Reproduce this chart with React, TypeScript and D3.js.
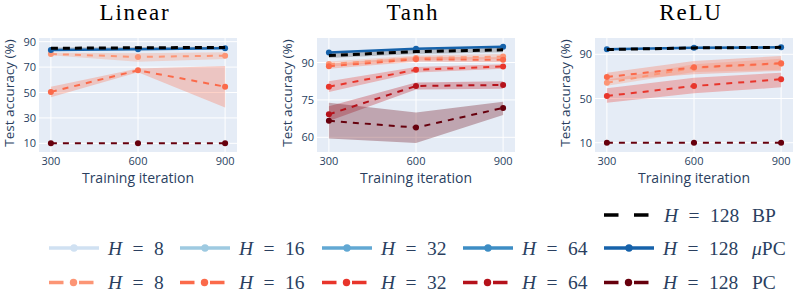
import React from 'react';
import * as d3 from 'd3';

// ---------- data ----------
const iterations = [300, 600, 900];
const panelTitles = ['Linear', 'Tanh', 'ReLU'];
const hiddenSizes = [8, 16, 32, 64, 128];

// Linear
const linBP = [84.8, 85.2, 85.5];
const linBPLo = [84.2, 84.6, 84.9];
const linBPHi = [85.4, 85.8, 86.1];
const linMuPC128 = [83.5, 84.0, 84.8];
const linPC8 = [80.3, 78.0, 79.0];
const linPC8Lo = [79.3, 74.3, 76.4];
const linPC8Hi = [81.2, 80.9, 81.6];
const linPC16 = [50.5, 67.5, 54.6];
const linPC16Lo = [46.2, 66.0, 38.3];
const linPC16Hi = [54.6, 69.0, 70.9];
const linPC128 = [10, 10, 10];

// Tanh
const tanhBP = [92.8, 94.4, 95.1];
const tanhBPLo = [91.8, 93.4, 94.1];
const tanhBPHi = [93.8, 95.4, 96.1];
const tanhMuPC128 = [94.0, 95.5, 96.3];
const tanhPC8 = [89.4, 91.8, 92.4];
const tanhPC8Lo = [88.4, 90.8, 91.4];
const tanhPC8Hi = [90.4, 92.8, 93.4];
const tanhPC16 = [88.5, 91.3, 91.1];
const tanhPC16Lo = [87.5, 90.3, 90.1];
const tanhPC16Hi = [89.5, 92.3, 92.1];
const tanhPC32 = [80.3, 87.1, 88.4];
const tanhPC32Lo = [78.2, 86.0, 87.5];
const tanhPC32Hi = [82.5, 88.2, 89.3];
const tanhPC64 = [69.2, 80.6, 81.0];
const tanhPC64Lo = [66.5, 79.2, 79.5];
const tanhPC64Hi = [72.5, 82.0, 82.5];
const tanhPC128 = [66.6, 63.9, 71.8];
const tanhPC128Lo = [59.5, 57.7, 68.9];
const tanhPC128Hi = [73.9, 70.0, 74.3];

// ReLU
const reluBP = [94.3, 95.8, 96.3];
const reluMuPC128 = [94.5, 96.0, 96.3];
const reluPC8 = [64.3, 77.8, 81.5];
const reluPC8Lo = [61.6, 74.0, 76.0];
const reluPC8Hi = [67.0, 81.0, 86.0];
const reluPC16 = [69.5, 78.2, 81.9];
const reluPC16Lo = [66.0, 72.0, 75.0];
const reluPC16Hi = [73.4, 84.0, 88.5];
const reluPC32 = [52.3, 61.3, 67.4];
const reluPC32Lo = [46.2, 54.7, 60.1];
const reluPC32Hi = [59.2, 68.8, 73.4];
const reluPC128 = [10, 10, 10];

// axis ranges and ticks
const linYDomain = [3.2, 92.9];
const tanhYDomain = [54.1, 99.85];
const reluYDomain = [1.6, 104.75];
const linYTicks = [10, 30, 50, 70, 90];
const tanhYTicks = [60, 75, 90];
const reluYTicks = [10, 50, 90];
const xDomain = [259, 941];
const xTicks = [300, 600, 900];

// ---------- styles ----------
const blues = ['#d0e1f2', '#9ecae1', '#62a8d3', '#3d8dc4', '#1662aa'];
const reds = ['#fc9575', '#fb6a4a', '#e8352b', '#b5121b', '#67000d'];
const axisColor = '#2a3f5f';
const sansFont = '"Open Sans", "Noto Sans", sans-serif';
const serifFont = '"Liberation Serif", "Times New Roman", "DejaVu Serif", serif';

type Series = {
  kind: 'bp' | 'mupc' | 'pc';
  h: number;
  values: number[];
  lo?: number[];
  hi?: number[];
};

const panels: { title: string; yDomain: number[]; yTicks: number[]; series: Series[] }[] = [
  {
    title: panelTitles[0],
    yDomain: linYDomain,
    yTicks: linYTicks,
    series: [
      { kind: 'pc', h: 0, values: linPC8, lo: linPC8Lo, hi: linPC8Hi },
      { kind: 'pc', h: 1, values: linPC16, lo: linPC16Lo, hi: linPC16Hi },
      { kind: 'pc', h: 4, values: linPC128 },
      { kind: 'mupc', h: 4, values: linMuPC128 },
      { kind: 'bp', h: 4, values: linBP, lo: linBPLo, hi: linBPHi },
    ],
  },
  {
    title: panelTitles[1],
    yDomain: tanhYDomain,
    yTicks: tanhYTicks,
    series: [
      { kind: 'pc', h: 0, values: tanhPC8, lo: tanhPC8Lo, hi: tanhPC8Hi },
      { kind: 'pc', h: 1, values: tanhPC16, lo: tanhPC16Lo, hi: tanhPC16Hi },
      { kind: 'pc', h: 2, values: tanhPC32, lo: tanhPC32Lo, hi: tanhPC32Hi },
      { kind: 'pc', h: 3, values: tanhPC64, lo: tanhPC64Lo, hi: tanhPC64Hi },
      { kind: 'pc', h: 4, values: tanhPC128, lo: tanhPC128Lo, hi: tanhPC128Hi },
      { kind: 'mupc', h: 4, values: tanhMuPC128 },
      { kind: 'bp', h: 4, values: tanhBP, lo: tanhBPLo, hi: tanhBPHi },
    ],
  },
  {
    title: panelTitles[2],
    yDomain: reluYDomain,
    yTicks: reluYTicks,
    series: [
      { kind: 'pc', h: 0, values: reluPC8, lo: reluPC8Lo, hi: reluPC8Hi },
      { kind: 'pc', h: 1, values: reluPC16, lo: reluPC16Lo, hi: reluPC16Hi },
      { kind: 'pc', h: 2, values: reluPC32, lo: reluPC32Lo, hi: reluPC32Hi },
      { kind: 'pc', h: 4, values: reluPC128 },
      { kind: 'mupc', h: 4, values: reluMuPC128 },
      { kind: 'bp', h: 4, values: reluBP },
    ],
  },
];

const W = 793;
const H = 293;
const plotLefts = [39, 317, 595];
const plotW = 198;
const plotTop = 38;
const plotBottom = 152;

function colorOf(s: Series) {
  if (s.kind === 'bp') return '#000000';
  if (s.kind === 'mupc') return blues[s.h];
  return reds[s.h];
}

function Panel({ p, idx }: { p: (typeof panels)[number]; idx: number }) {
  const left = plotLefts[idx];
  const x = d3.scaleLinear().domain(xDomain).range([left, left + plotW]);
  const y = d3.scaleLinear().domain(p.yDomain).range([plotBottom, plotTop]);
  const clipId = `clip-${idx}`;
  const idxs = iterations.map((_, i) => i);
  const area = (lo: number[], hi: number[]) =>
    d3
      .area<number>()
      .x((d) => x(iterations[d]))
      .y0((d) => y(lo[d]))
      .y1((d) => y(hi[d]))(idxs) || '';
  const line = (v: number[]) =>
    d3
      .line<number>()
      .x((d) => x(iterations[d]))
      .y((d) => y(v[d]))(idxs) || '';

  return (
    <g>
      <defs>
        <clipPath id={clipId}>
          <rect x={left} y={plotTop} width={plotW} height={plotBottom - plotTop} />
        </clipPath>
      </defs>
      <rect x={left} y={plotTop} width={plotW} height={plotBottom - plotTop} fill="#e5ecf6" />
      {p.yTicks.map((t) => (
        <line key={'gy' + t} x1={left} x2={left + plotW} y1={y(t)} y2={y(t)} stroke="#fff" strokeWidth={1} />
      ))}
      {xTicks.map((t) => (
        <line key={'gx' + t} x1={x(t)} x2={x(t)} y1={plotTop} y2={plotBottom} stroke="#fff" strokeWidth={1} />
      ))}
      <g clipPath={`url(#${clipId})`}>
        {p.series.map((s, i) =>
          s.lo && s.hi ? (
            <path
              key={'b' + i}
              d={area(s.lo, s.hi)}
              fill={colorOf(s)}
              fillOpacity={s.kind === 'bp' ? 0.2 : 0.3}
              stroke="none"
            />
          ) : null
        )}
        {p.series.map((s, i) => {
          const c = colorOf(s);
          return (
            <g key={'l' + i}>
              <path
                d={line(s.values)}
                fill="none"
                stroke={c}
                strokeWidth={s.kind === 'mupc' ? 2.5 : s.kind === 'bp' ? 3 : 2}
                strokeDasharray={s.kind === 'pc' ? '6,6' : s.kind === 'bp' ? '7,5' : undefined}
              />
              {s.kind !== 'bp' &&
                s.values.map((v, j) => <circle key={j} cx={x(iterations[j])} cy={y(v)} r={3} fill={c} />)}
            </g>
          );
        })}
      </g>
      {p.yTicks.map((t) => (
        <text key={'ty' + t} x={left - 3} y={y(t) + 4} textAnchor="end" fontSize={11} fill={axisColor} fontFamily={sansFont}>
          {t}
        </text>
      ))}
      {xTicks.map((t) => (
        <text key={'tx' + t} x={x(t)} y={164.5} textAnchor="middle" fontSize={11} fill={axisColor} fontFamily={sansFont}>
          {t}
        </text>
      ))}
      <text x={left + plotW / 2} y={183.3} textAnchor="middle" fontSize={14} fill={axisColor} fontFamily={sansFont}>
        Training iteration
      </text>
      <text
        transform={`translate(${left - 25},${93}) rotate(-90)`}
        textAnchor="middle"
        fontSize={13.5}
        fill={axisColor}
        fontFamily={sansFont}
      >
        Test accuracy (%)
      </text>
      <text x={left + 96} y={20} textAnchor="middle" fontSize={23} letterSpacing={1.8} fill="#000" fontFamily={serifFont}>
        {p.title}
      </text>
    </g>
  );
}

const legendColX = [49, 180, 322, 463, 604];
const legendRowY = { bp: 215, mupc: 248, pc: 282.5 };
const rowLabels = { bp: 'BP', mupc: 'μPC', pc: 'PC' };
const legendFontSize = 19.5;

function LegendLabel({ x, y, h }: { x: number; y: number; h: number }) {
  return (
    <g>
      <text x={x} y={y} fontStyle="italic" fontFamily={serifFont} fontSize={legendFontSize} fill={axisColor}>
        H
      </text>
      <text x={x + 30} y={y} textAnchor="middle" fontFamily={serifFont} fontSize={legendFontSize} fill={axisColor}>
        =
      </text>
      <text x={x + 46} y={y} fontFamily={serifFont} fontSize={legendFontSize} fill={axisColor}>
        {h}
      </text>
    </g>
  );
}

function Legend() {
  const items: React.ReactNode[] = [];
  {
    const x0 = legendColX[4];
    const yy = legendRowY.bp;
    items.push(
      <line key="bp" x1={x0} x2={x0 + 46} y1={yy} y2={yy} stroke="#000" strokeWidth={3.5} strokeDasharray="14.5,15.5" />
    );
    items.push(<LegendLabel key="bpl" x={x0 + 60} y={yy + 6.5} h={hiddenSizes[4]} />);
  }
  hiddenSizes.forEach((h, i) => {
    const x0 = legendColX[i];
    const ym = legendRowY.mupc;
    items.push(
      <g key={'m' + i}>
        <line x1={x0} x2={x0 + 50} y1={ym} y2={ym} stroke={blues[i]} strokeWidth={3.5} />
        <circle cx={x0 + 25} cy={ym} r={3.7} fill={blues[i]} />
        <LegendLabel x={x0 + 59} y={ym + 7} h={h} />
      </g>
    );
    const yp = legendRowY.pc;
    items.push(
      <g key={'p' + i}>
        <line x1={x0} x2={x0 + 46} y1={yp} y2={yp} stroke={reds[i]} strokeWidth={3.5} strokeDasharray="14.5,15.5" />
        <circle cx={x0 + 24.5} cy={yp} r={3.7} fill={reds[i]} />
        <LegendLabel x={x0 + 59} y={yp + 6.5} h={h} />
      </g>
    );
  });
  (['bp', 'mupc', 'pc'] as const).forEach((k) => {
    const yy = legendRowY[k] + (k === 'mupc' ? 7 : 6.5);
    items.push(
      <text key={'rl' + k} x={752} y={yy} fontFamily={serifFont} fontSize={legendFontSize} fill={axisColor}>
        {k === 'mupc' ? (
          <>
            <tspan fontStyle="italic">μ</tspan>PC
          </>
        ) : (
          rowLabels[k]
        )}
      </text>
    );
  });
  return <g>{items}</g>;
}

export default function App() {
  return (
    <svg
      width={W}
      height={H}
      viewBox={`0 0 ${W} ${H}`}
      style={{ position: 'fixed', left: 0, top: 0, background: '#fff' }}
    >
      <rect x={0} y={0} width={W} height={H} fill="#fff" />
      {panels.map((p, i) => (
        <Panel key={i} p={p} idx={i} />
      ))}
      <Legend />
    </svg>
  );
}
